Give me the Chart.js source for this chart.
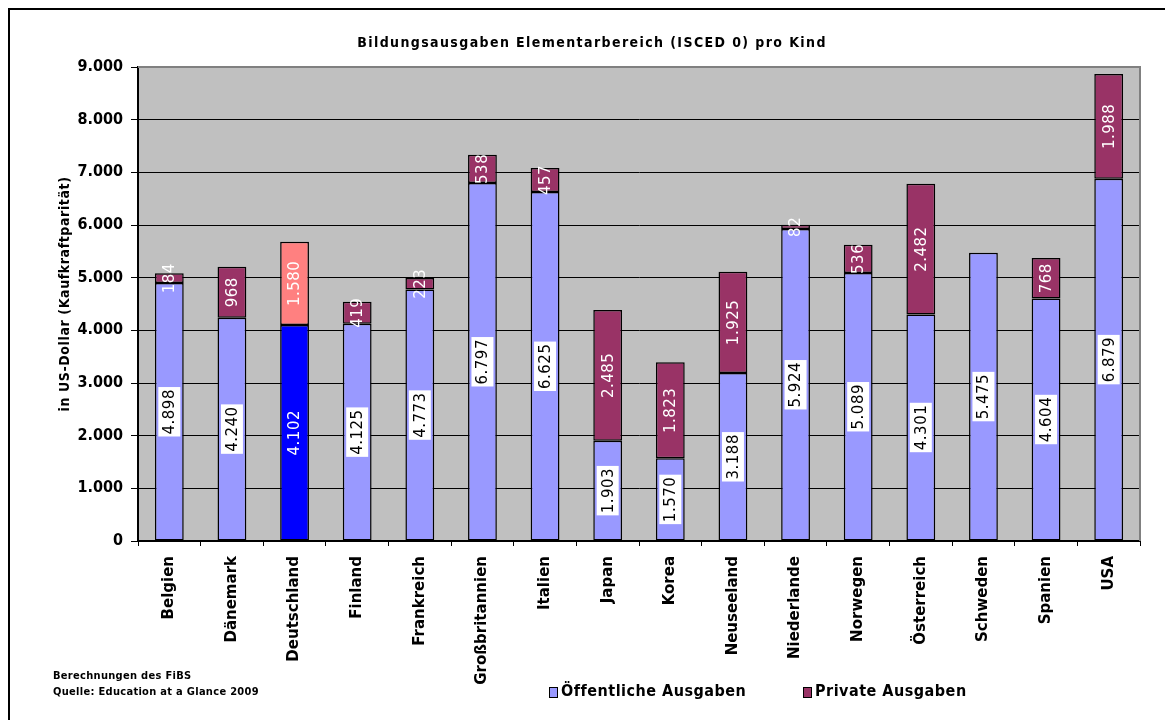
<!DOCTYPE html>
<html>
<head>
<meta charset="utf-8">
<script src="https://cdn.jsdelivr.net/npm/chart.js@4"></script>
<style>
  body { margin: 0; background: #fff; }
  canvas { display: block; }
</style>
</head>
<body>
<canvas id="myChart" width="1165" height="720"></canvas>
<script>
const countries = ["Belgien", "Dänemark", "Deutschland", "Finland", "Frankreich", "Großbritannien", "Italien", "Japan",
    "Korea", "Neuseeland", "Niederlande", "Norwegen", "Österreich", "Schweden", "Spanien", "USA"];
const publicValues = [4898, 4240, 4102, 4125, 4773, 6797, 6625, 1903, 1570, 3188, 5924, 5089, 4301, 5475, 4604, 6879];
const privateValues = [184, 968, 1580, 419, 223, 538, 457, 2485, 1823, 1925, 82, 536, 2482, null, 768, 1988];
const yTicks = [0, 1000, 2000, 3000, 4000, 5000, 6000, 7000, 8000, 9000];

const highlight = "Deutschland";
const condensed = "'DejaVu Sans Condensed', 'Liberation Sans Narrow', 'DejaVu Sans', sans-serif";

function fmt(v){
    return String(v).replace(/\B(?=(\d{3})+(?!\d))/g, ".");
}

const publicColors = countries.map(c => c === highlight ? "#0000FF" : "#9999FF");
const privateColors = countries.map(c => c === highlight ? "#FF8080" : "#993366");

// value labels, rotated inside the bars
const barLabels = {
    id: "barLabels",
    afterDatasetsDraw(chart){
        const ctx = chart.ctx;
        chart.data.datasets.forEach((ds, di) => {
            const meta = chart.getDatasetMeta(di);
            meta.data.forEach((bar, i) => {
                const v = ds.data[i];
                if (v === null || v === undefined) return;
                const text = fmt(v);
                const cy = (bar.y + bar.base) / 2;
                ctx.save();
                ctx.translate(bar.x, cy);
                ctx.rotate(-Math.PI / 2);
                ctx.font = "15px 'DejaVu Sans', sans-serif";
                ctx.letterSpacing = "0.5px";
                ctx.textAlign = "center";
                ctx.textBaseline = "middle";
                const w = ctx.measureText(text).width;
                if (di === 0 && countries[i] !== highlight) {
                    ctx.fillStyle = "#fff";
                    ctx.fillRect(-w / 2 - 2, -11, w + 4, 22);
                    ctx.fillStyle = "#000";
                } else {
                    ctx.fillStyle = "#fff";
                }
                ctx.fillText(text, 0, 1);
                ctx.restore();
            });
        });
    }
};

// frame, title, axis title, notes, legend
const decorations = {
    id: "decorations",
    beforeDraw(chart){
        const ctx = chart.ctx;
        const a = chart.chartArea;
        ctx.save();
        ctx.fillStyle = "#fff";
        ctx.fillRect(0, 0, chart.width, chart.height);
        ctx.fillStyle = "#C0C0C0";
        ctx.fillRect(a.left, a.top, a.right - a.left, a.bottom - a.top);
        ctx.restore();
    },
    afterDraw(chart){
        const ctx = chart.ctx;
        const a = chart.chartArea;
        ctx.save();
        // plot frame top/right
        ctx.strokeStyle = "#808080";
        ctx.lineWidth = 2;
        ctx.beginPath();
        ctx.moveTo(a.left, a.top);
        ctx.lineTo(a.right, a.top);
        ctx.lineTo(a.right, a.bottom);
        ctx.stroke();
        // outer border (only left and top are inside the picture)
        ctx.strokeStyle = "#000";
        ctx.lineWidth = 2;
        ctx.strokeRect(9, 9, 1300, 900);

        ctx.fillStyle = "#000";
        ctx.textBaseline = "middle";
        ctx.font = "bold 14px " + condensed;
        ctx.letterSpacing = "1.4px";
        ctx.textAlign = "center";
        ctx.fillText("Bildungsausgaben Elementarbereich (ISCED 0) pro Kind", 592, 43);

        ctx.save();
        ctx.translate(65, 294);
        ctx.rotate(-Math.PI / 2);
        ctx.font = "bold 14px " + condensed;
        ctx.letterSpacing = "0.6px";
        ctx.fillText("in US-Dollar (Kaufkraftparität)", 0, 0);
        ctx.restore();

        ctx.textAlign = "left";
        ctx.font = "bold 11px " + condensed;
        ctx.letterSpacing = "0.3px";
        ctx.fillText("Berechnungen des FiBS", 53, 676);
        ctx.fillText("Quelle: Education at a Glance 2009", 53, 692);

        const legendItems = [
            {label: "Öffentliche Ausgaben", color: "#9999FF", x: 549},
            {label: "Private Ausgaben", color: "#993366", x: 803}
        ];
        ctx.font = "bold 16px " + condensed;
        ctx.letterSpacing = "0.5px";
        legendItems.forEach(item => {
            ctx.fillStyle = item.color;
            ctx.fillRect(item.x, 687, 8, 10);
            ctx.strokeStyle = "#000";
            ctx.lineWidth = 1;
            ctx.strokeRect(item.x + 0.5, 687.5, 8, 10);
            ctx.fillStyle = "#000";
            ctx.fillText(item.label, item.x + 12, 692);
        });
        ctx.restore();
    }
};

new Chart("myChart", {
    type: "bar",
    data: {
        labels: countries,
        datasets: [
            {
                label: "Öffentliche Ausgaben",
                data: publicValues,
                backgroundColor: publicColors,
                borderColor: "#000",
                borderWidth: 1.5,
                borderSkipped: false
            },
            {
                label: "Private Ausgaben",
                data: privateValues,
                backgroundColor: privateColors,
                borderColor: "#000",
                borderWidth: 1.5,
                borderSkipped: false
            }
        ]
    },
    options: {
        responsive: false,
        animation: false,
        devicePixelRatio: 1,
        barPercentage: 0.46,
        categoryPercentage: 1,
        layout: {
            padding: { left: 0, right: 25, top: 67, bottom: 0 }
        },
        plugins: {
            legend: { display: false },
            title: { display: false },
            tooltip: { enabled: false }
        },
        scales: {
            x: {
                stacked: true,
                afterFit: scale => { scale.height = 179; },
                border: { color: "#000", width: 2 },
                grid: {
                    offset: true,
                    drawOnChartArea: false,
                    color: "#000",
                    tickLength: 5
                },
                ticks: {
                    minRotation: 90,
                    maxRotation: 90,
                    autoSkip: false,
                    padding: 10,
                    color: "#000",
                    font: { family: "'DejaVu Sans', sans-serif", weight: "bold", size: 15 }
                }
            },
            y: {
                stacked: true,
                min: 0,
                max: 9000,
                afterFit: scale => { scale.width = 138; },
                afterBuildTicks: scale => { scale.ticks = yTicks.map(v => ({ value: v })); },
                border: { color: "#000", width: 2 },
                grid: {
                    color: "#000",
                    lineWidth: 1,
                    tickLength: 7
                },
                ticks: {
                    padding: 8,
                    color: "#000",
                    callback: v => fmt(v),
                    font: { family: condensed, weight: "bold", size: 16 }
                }
            }
        }
    },
    plugins: [decorations, barLabels]
});
</script>
</body>
</html>
